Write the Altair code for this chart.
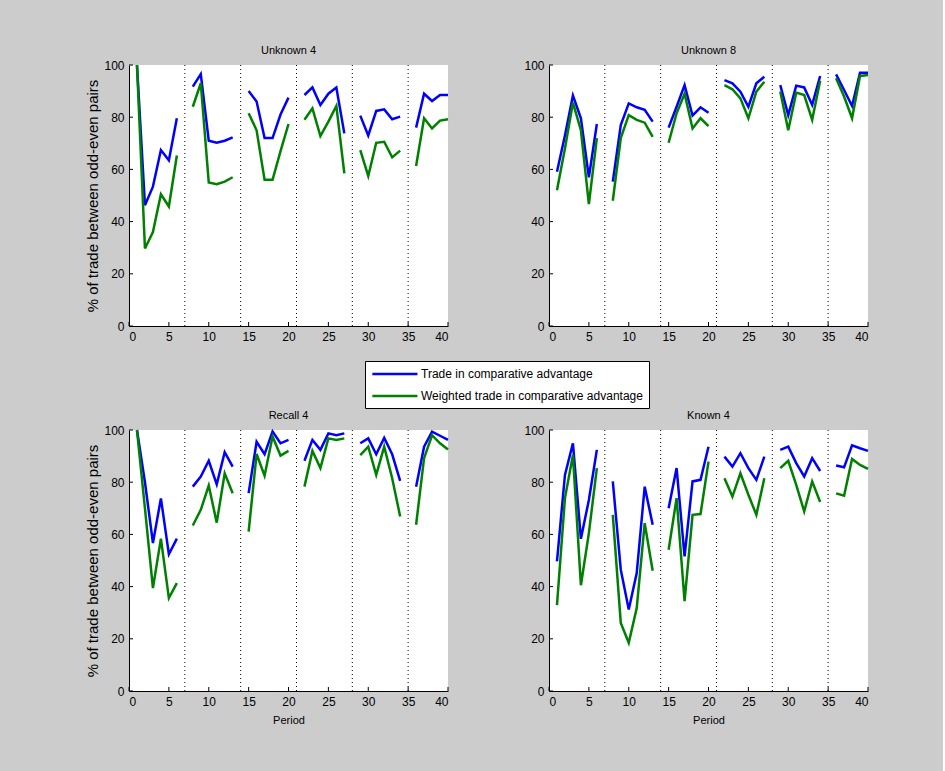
import altair as alt
import pandas as pd

periods = list(range(1, 41))
separators = [7, 14, 21, 28, 35]
x_ticks = [0, 5, 10, 15, 20, 25, 30, 35, 40]
y_ticks = [0, 20, 40, 60, 80, 100]
panel_titles = ["Unknown 4", "Unknown 8", "Recall 4", "Known 4"]
series_names = ["Trade in comparative advantage", "Weighted trade in comparative advantage"]
series_colors = ["#0000ff", "#008000"]

N = None
unknown4_trade = [100, 46.3, 53.4, 67.4, 63.5, 79.6, N,
                  91.7, 96.5, 71, 70.2, 71, 72.3, N,
                  90, 86, 72, 72, 81, 87.5, N,
                  88.5, 91.4, 84.7, 89, 91.4, 73.8, N,
                  80.6, 73, 82.4, 83, 79.2, 80.2, N,
                  76, 89, 86.2, 88.5, 88.5]
unknown4_weighted = [100, 29.7, 36, 50.5, 45.8, 65.3, N,
                     84, 93, 55, 54.3, 55.3, 57, N,
                     81.5, 75, 56, 56, 67, 77.4, N,
                     79, 83.4, 72.8, 78.3, 84.3, 58.5, N,
                     67.4, 57.5, 70.2, 70.6, 64.6, 67.2, N,
                     61.3, 79.6, 75.7, 78.7, 79.2]
unknown8_trade = [59.1, 73, 88.3, 79.6, 57, 77.4, N,
                  55.3, 77, 85.3, 83.8, 82.8, 78.3, N,
                  76, 84, 92.3, 80.6, 83.8, 81.7, N,
                  94.2, 93, 89.8, 84, 93, 95.5, N,
                  92.3, 80.8, 92.1, 91.4, 84.7, 95.8, N,
                  96.4, 90.4, 84.3, 97, 97]
unknown8_weighted = [52, 68, 85.6, 75, 46.7, 72, N,
                     48, 72, 80.8, 79, 77.9, 72.5, N,
                     70.2, 81.5, 89, 75.7, 79.6, 76.6, N,
                     92.3, 90.7, 87.2, 79.6, 89.8, 93.6, N,
                     89.8, 75, 89.4, 88.5, 79, 94, N,
                     94.9, 87.9, 79.6, 95.8, 96.2]
recall4_trade = [100, 80, 56.7, 73.8, 52.4, 58.4, N,
                 78.3, 82.2, 88.2, 79.2, 91.5, 86, N,
                 75.8, 95.5, 90.7, 99.4, 94.9, 96.2, N,
                 88.2, 96.2, 92.4, 98.7, 98, 98.7, N,
                 94.9, 96.8, 90.7, 97, 90.7, 80.5, N,
                 78.3, 93.6, 99.4, 97.8, 96.2]
recall4_weighted = [100, 70, 39.4, 58.4, 35.6, 41.3, N,
                    63.4, 69.4, 78.7, 64.5, 83.4, 75.8, N,
                    61.1, 90.8, 82.5, 97.5, 90.2, 92, N,
                    78.3, 92, 85.4, 96.8, 96.2, 96.8, N,
                    90.4, 93.6, 82.8, 93.6, 81.5, 66.9, N,
                    63.7, 89.2, 98, 94.9, 92.5]
known4_trade = [49.7, 82.8, 94.9, 58.3, 73.2, 92.4, N,
                80.3, 46.5, 31.2, 45.2, 78.3, 63.7, N,
                70, 85.4, 51.6, 80.3, 80.9, 93.6, N,
                89.8, 86, 91.1, 85.4, 80.9, 89.8, N,
                92.4, 93.6, 87.3, 82.2, 89.2, 84.3, N,
                86.4, 85.7, 94.1, 93, 92]
known4_weighted = [32.9, 73.9, 90.4, 40.5, 60.5, 85.4, N,
                   67.5, 26.1, 18.5, 31.8, 64.3, 46.1, N,
                   54.1, 73.9, 34.4, 67.5, 67.8, 87.9, N,
                   81.5, 74.5, 83.4, 75.2, 67.5, 81.5, N,
                   85.4, 88.2, 79, 68.8, 80.3, 72.4, N,
                   75.7, 74.8, 88.9, 86.6, 85.1]

FONT = "Liberation Sans"
W, H = 319, 261


def make_df(trade, weighted):
    rows = []
    for name, vals in zip(series_names, [trade, weighted]):
        for p, v in zip(periods, vals):
            if v is not None:
                rows.append({"period": p, "value": v, "series": name, "segment": (p - 1) // 7})
    return pd.DataFrame(rows)


def panel(title, trade, weighted, x_title, y_title):
    df = make_df(trade, weighted)
    xscale = alt.Scale(domain=[0, 40], nice=False, zero=False)
    yscale = alt.Scale(domain=[0, 100], nice=False)
    xaxis_kw = dict(values=x_ticks, labelPadding=5, ticks=False, titlePadding=7,
                    titleFontSize=11, titleFontWeight="normal", titleFont=FONT)
    yaxis_kw = dict(values=y_ticks, labelPadding=5, ticks=False, titlePadding=3,
                    titleFontSize=15, titleFontWeight="normal", titleFont=FONT)
    xaxis = alt.Axis(title=x_title, **xaxis_kw) if x_title else alt.Axis(title=None, **xaxis_kw)
    yaxis = alt.Axis(title=y_title, **yaxis_kw) if y_title else alt.Axis(title=None, **yaxis_kw)

    seps = alt.Chart(pd.DataFrame({"x": separators})).mark_rule(
        color="black", strokeWidth=1, strokeDash=[1, 3]
    ).encode(x=alt.X("x:Q", scale=xscale, axis=xaxis))

    lines = alt.Chart(df).mark_line(strokeWidth=2.5).encode(
        x=alt.X("period:Q", scale=xscale, axis=xaxis),
        y=alt.Y("value:Q", scale=yscale, axis=yaxis),
        color=alt.Color("series:N", scale=alt.Scale(domain=series_names, range=series_colors),
                        legend=alt.Legend(title=None, orient="none", legendX=236, legendY=296,
                                          direction="vertical", symbolType="M-1,0H7",
                                          symbolSize=127, symbolStrokeWidth=2.5,
                                          labelFont=FONT, labelFontSize=12, labelColor="black",
                                          labelOffset=36, padding=6, rowPadding=9,
                                          strokeColor="black", fillColor="white",
                                          cornerRadius=0, labelLimit=400)),
        detail="segment:N",
        order="period:Q",
    )

    xt = alt.Chart(pd.DataFrame({"t": x_ticks})).mark_rule(color="black", strokeWidth=1).encode(
        x=alt.X("t:Q", scale=xscale, axis=xaxis), y=alt.value(H), y2=alt.value(H - 4))
    yt = alt.Chart(pd.DataFrame({"t": y_ticks})).mark_rule(color="black", strokeWidth=1).encode(
        y=alt.Y("t:Q", scale=yscale, axis=yaxis), x=alt.value(0), x2=alt.value(4))

    return alt.layer(seps, lines, xt, yt).properties(
        width=W, height=H,
        title=alt.TitleParams(title, fontSize=11, font=FONT, fontWeight="normal",
                              color="black", frame="group", offset=3)
    )


ylab = "% of trade between odd-even pairs"
p1 = panel(panel_titles[0], unknown4_trade, unknown4_weighted, None, ylab)
p2 = panel(panel_titles[1], unknown8_trade, unknown8_weighted, None, None)
p3 = panel(panel_titles[2], recall4_trade, recall4_weighted, "Period", ylab)
p4 = panel(panel_titles[3], known4_trade, known4_weighted, "Period", None)

chart = alt.concat(
    p1, p2, p3, p4, columns=2,
    spacing={"row": 104, "column": 101}, bounds="flush",
).properties(
    background="#cccccc",
    padding={"left": 85, "top": 45, "right": 70, "bottom": 46},
).configure_view(
    stroke=None, fill="white"
).configure_axis(
    grid=False, domainColor="black", domainWidth=1, labelColor="black",
    labelFont=FONT, labelFontSize=12, titleColor="black"
)

chart.save("out.html", embed_options={"renderer": "svg", "actions": False})
